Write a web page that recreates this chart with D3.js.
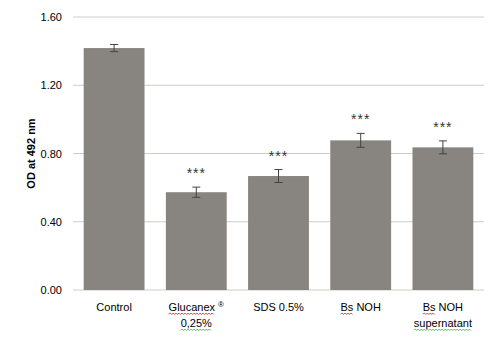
<!DOCTYPE html>
<html>
<head>
<meta charset="utf-8">
<script src="https://cdn.jsdelivr.net/npm/d3@7"></script>
<style>
  body { margin: 0; background: #fff; }
  text { font-family: "Liberation Sans", Arial, sans-serif; }
</style>
</head>
<body>
<script>
const WIDTH = 497;
const HEIGHT = 338;
const MARGIN = { top: 17, right: 13, bottom: 48, left: 73 };

// datos
const categorias = ["Control", "Glucanex", "SDS 0.5%", "Bs NOH", "Bs NOH supernatant"];
const valores = [1.418, 0.573, 0.668, 0.877, 0.836];
const errores = [0.021, 0.030, 0.038, 0.041, 0.038];
const significancia = ["", "***", "***", "***", "***"];
const ticksY = [0, 0.4, 0.8, 1.2, 1.6];

const svg = d3.select("body")
    .append("svg")
    .attr("width", WIDTH)
    .attr("height", HEIGHT);

const ancho = WIDTH - MARGIN.left - MARGIN.right;
const alto = HEIGHT - MARGIN.top - MARGIN.bottom;

const g = svg.append("g")
    .attr("transform", `translate(${MARGIN.left},${MARGIN.top})`);

const x = d3.scaleBand()
    .domain(categorias)
    .range([0, ancho])
    .paddingInner(0.26)
    .paddingOuter(0.13);

const y = d3.scaleLinear()
    .domain([0, 1.6])
    .range([alto, 0]);

// grilla
g.selectAll("line.grid")
    .data(ticksY)
    .join("line")
    .attr("class", "grid")
    .attr("x1", 0)
    .attr("x2", ancho)
    .attr("y1", (d) => y(d))
    .attr("y2", (d) => y(d))
    .attr("stroke", "#c9cec9")
    .attr("stroke-width", 1);

// eje y sin línea
const ejeY = g.append("g")
    .call(d3.axisLeft(y).tickValues(ticksY).tickFormat(d3.format(".2f")).tickSize(0).tickPadding(11));
ejeY.select(".domain").remove();
ejeY.selectAll("text")
    .attr("font-size", 11)
    .attr("fill", "#000")
    .style("font-family", "Liberation Sans, Arial, sans-serif");

// barras
g.selectAll("rect.barra")
    .data(valores)
    .join("rect")
    .attr("class", "barra")
    .attr("x", (d, i) => x(categorias[i]))
    .attr("y", (d) => y(d))
    .attr("width", x.bandwidth())
    .attr("height", (d) => alto - y(d))
    .attr("fill", "#88847f");

// barras de error
const err = g.selectAll("g.error")
    .data(valores)
    .join("g")
    .attr("class", "error")
    .attr("transform", (d, i) => `translate(${x(categorias[i]) + x.bandwidth() / 2},0)`);

err.append("line")
    .attr("y1", (d, i) => y(d + errores[i]))
    .attr("y2", (d, i) => y(d - errores[i]))
    .attr("stroke", "#444");
err.append("line")
    .attr("x1", -4).attr("x2", 4)
    .attr("y1", (d, i) => y(d + errores[i]))
    .attr("y2", (d, i) => y(d + errores[i]))
    .attr("stroke", "#444");
err.append("line")
    .attr("x1", -4).attr("x2", 4)
    .attr("y1", (d, i) => y(d - errores[i]))
    .attr("y2", (d, i) => y(d - errores[i]))
    .attr("stroke", "#444");

err.append("text")
    .attr("y", (d, i) => y(d + errores[i]) - 9)
    .attr("text-anchor", "middle")
    .attr("font-size", 14)
    .attr("letter-spacing", 1)
    .attr("fill", "#333")
    .text((d, i) => significancia[i]);

// etiquetas del eje x
const lineas = [
    ["Control"],
    ["Glucanex", "0,25%"],
    ["SDS 0.5%"],
    ["Bs NOH"],
    ["Bs NOH", "supernatant"],
];
// subrayados del corrector (rojo / verde)
const subrayados = [
    [],
    [{ linea: 0, texto: "Glucanex", color: "#e02020" }, { linea: 1, texto: "0,25%", color: "#30b030" }],
    [],
    [{ linea: 0, texto: "Bs", color: "#e02020" }],
    [{ linea: 0, texto: "Bs", color: "#e02020" }, { linea: 1, texto: "supernatant", color: "#30b030" }],
];

function zigzag(x0, x1, y0) {
    let p = `M${x0},${y0}`;
    let arriba = true;
    for (let xx = x0 + 1.5; xx <= x1; xx += 1.5) {
        p += `L${xx},${arriba ? y0 - 1 : y0 + 0.5}`;
        arriba = !arriba;
    }
    return p;
}

const ejeX = g.append("g").attr("transform", `translate(0,${alto})`);
lineas.forEach((ls, i) => {
    const cx = x(categorias[i]) + x.bandwidth() / 2;
    const textos = [];
    ls.forEach((t, j) => {
        const txt = ejeX.append("text")
            .attr("x", cx)
            .attr("y", 21 + j * 16)
            .attr("text-anchor", "middle")
            .attr("font-size", 11)
            .attr("fill", "#000");
        if (i === 1 && j === 0) {
            txt.append("tspan").text("Glucanex ");
            txt.append("tspan").attr("dy", -4).attr("font-size", 8).text("®");
        } else {
            txt.text(t);
        }
        textos.push(txt);
    });
    subrayados[i].forEach((s) => {
        const caja = textos[s.linea].node().getBBox();
        // medir el texto subrayado
        const medida = ejeX.append("text")
            .attr("font-size", 11)
            .text(s.texto);
        const w = medida.node().getComputedTextLength();
        medida.remove();
        ejeX.append("path")
            .attr("d", zigzag(caja.x, caja.x + w, 21 + s.linea * 16 + 3))
            .attr("fill", "none")
            .attr("stroke", s.color)
            .attr("stroke-width", 0.8);
    });
});

// título del eje y
svg.append("text")
    .attr("transform", `translate(35,${MARGIN.top + alto / 2}) rotate(-90)`)
    .attr("text-anchor", "middle")
    .attr("font-size", 11)
    .attr("font-weight", "bold")
    .text("OD at 492 nm");
</script>
</body>
</html>
